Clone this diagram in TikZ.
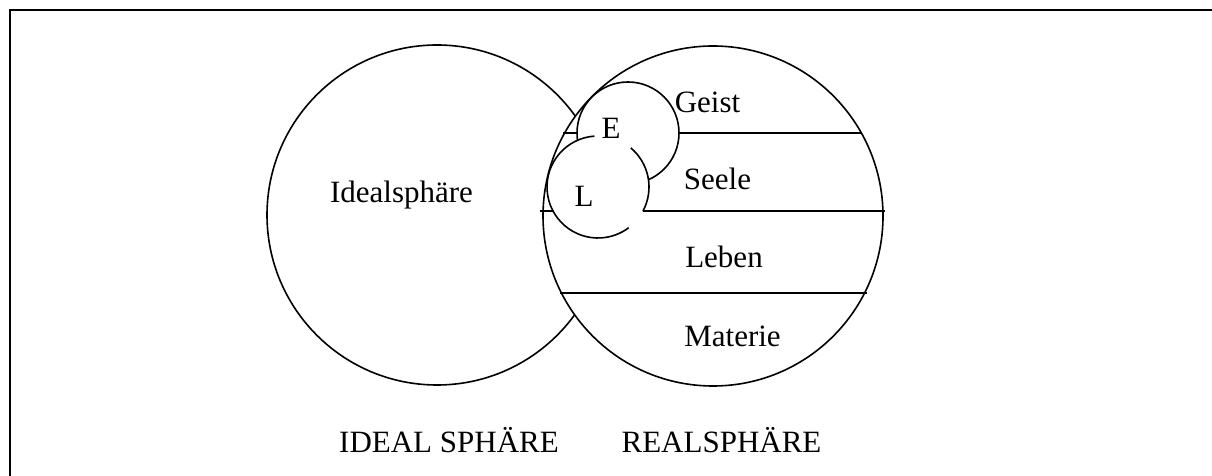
\documentclass[tikz,border=0pt]{standalone}
\usepackage{fontspec}
\setmainfont{Liberation Serif}
\begin{document}
\begin{tikzpicture}[x=1pt,y=1pt,
  lbl/.style={anchor=base,inner sep=0pt,font=\fontsize{31}{36}\selectfont},
  sphere/.style={circle,draw,line width=1.6pt,minimum size=340pt,inner sep=0pt,outer sep=0pt},
  small/.style={circle,line width=1.6pt,minimum size=102pt,inner sep=0pt,outer sep=0pt,fill=white},
  band/.style={line width=1.6pt}]
\useasboundingbox (0,0) rectangle (1212,476);
% frame (only top and left edges visible)
\draw[line width=2.2pt] (1212,466) -- (10,466) -- (10,0);
% spheres
\node[sphere] (ideal) at (437,261) {};
\node[sphere,fill=white] (real) at (713,260) {};
% layer boundaries
\coordinate (g1) at (563,343); \coordinate (g2) at (861,343);
\coordinate (s1) at (540,265); \coordinate (s2) at (885,265);
\coordinate (m1) at (560,183); \coordinate (m2) at (867,183);
\draw[band] (g1) -- (g2);
\draw[band] (s1) -- (s2);
\draw[band] (m1) -- (m2);
% E and L circles
\node[small,draw] (Ec) at (628,343) {};
\node[small] (Lc) at (598,289) {};
\draw[band] (Lc.94) arc[start angle=94,end angle=307,radius=51pt];
\draw[band] (Lc.332) arc[start angle=332,end angle=410,radius=51pt];
% labels
\node[lbl] (tIdeal) at (401.5,273) {Idealsphäre};
\node[lbl] (tGeist) at (707.5,363) {Geist};
\node[lbl] (tE) at (611,337) {E};
\node[lbl] (tSeele) at (717.5,286) {Seele};
\node[lbl] (tL) at (584,269) {L};
\node[lbl] (tLeben) at (724,208) {Leben};
\node[lbl] (tMaterie) at (732.5,129) {Materie};
\node[lbl] (tIS) at (449,23) {IDEAL SPHÄRE};
\node[lbl] (tRS) at (721.5,23) {REALSPHÄRE};
\end{tikzpicture}
\end{document}
